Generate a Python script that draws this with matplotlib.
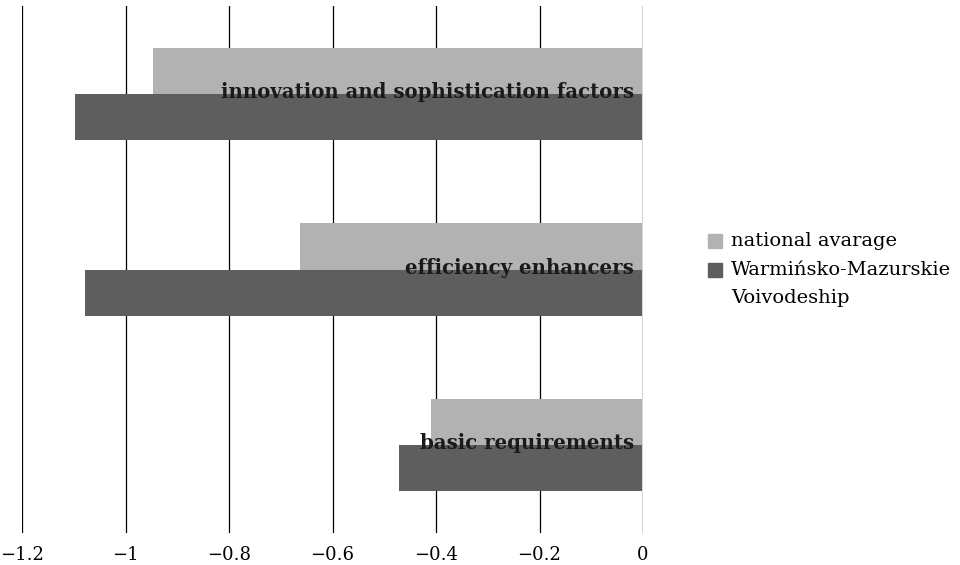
import matplotlib
matplotlib.use("Agg")
import matplotlib.pyplot as plt
from matplotlib.patches import Rectangle

plt.rcParams['font.family'] = ['DejaVu Serif']
plt.rcParams['axes.unicode_minus'] = True

categories = ["basic requirements", "efficiency enhancers", "innovation and sophistication factors"]
national = [-0.41, -0.663, -0.947]
warminsko = [-0.471, -1.078, -1.098]
series_names = ["national avarage", "Warmińsko-Mazurskie\nVoivodeship"]
xticks = [-1.2, -1.0, -0.8, -0.6, -0.4, -0.2, 0.0]
xtick_labels = ["\u22121.2", "\u22121", "\u22120.8", "\u22120.6", "\u22120.4", "\u22120.2", "0"]

c_nat = "#b2b2b2"
c_war = "#5e5e5e"

fig = plt.figure(figsize=(9.6, 5.65), dpi=100)
ax = fig.add_axes([22/960, (565-533)/565, (643-22)/960, (533-6)/565])

h = 0.262
ys = list(range(len(categories)))
ax.barh([y + h/2 for y in ys], national, height=h, color=c_nat, zorder=2)
ax.barh([y - h/2 for y in ys], warminsko, height=h, color=c_war, zorder=2)

for x in xticks[:-1]:
    ax.axvline(x, color="black", lw=0.9, zorder=1)
ax.axvline(0, color="#d4d4d4", lw=2.2, zorder=3)

for y, lab in zip(ys, categories):
    ax.annotate(lab, xy=(0, y), xytext=(-6.5, -3), textcoords="offset points",
                ha="right", va="baseline", fontsize=14.2, fontweight="bold",
                color="#1a1a1a", zorder=4)

ax.set_xlim(-1.2, 0)
ax.set_ylim(-0.5, 2.5)
ax.set_xticks(xticks)
ax.set_xticklabels(xtick_labels, fontsize=13)
ax.tick_params(axis="x", length=0, pad=9)
ax.set_yticks([])
for s in ax.spines.values():
    s.set_visible(False)

# legend
W, H = 960, 565
for i, (name, col) in enumerate(zip(series_names, [c_nat, c_war])):
    cy = 241 + 29 * i
    fig.patches.append(Rectangle((708/W, (H - cy - 7)/H), 14/W, 14/H,
                                 transform=fig.transFigure, color=col))
    lines = name.split("\n")
    for j, ln in enumerate(lines):
        fig.text(731/W, (H - cy - 28*j)/H, ln, fontsize=14, va="center", ha="left")

fig.savefig("out.png", dpi=100)
